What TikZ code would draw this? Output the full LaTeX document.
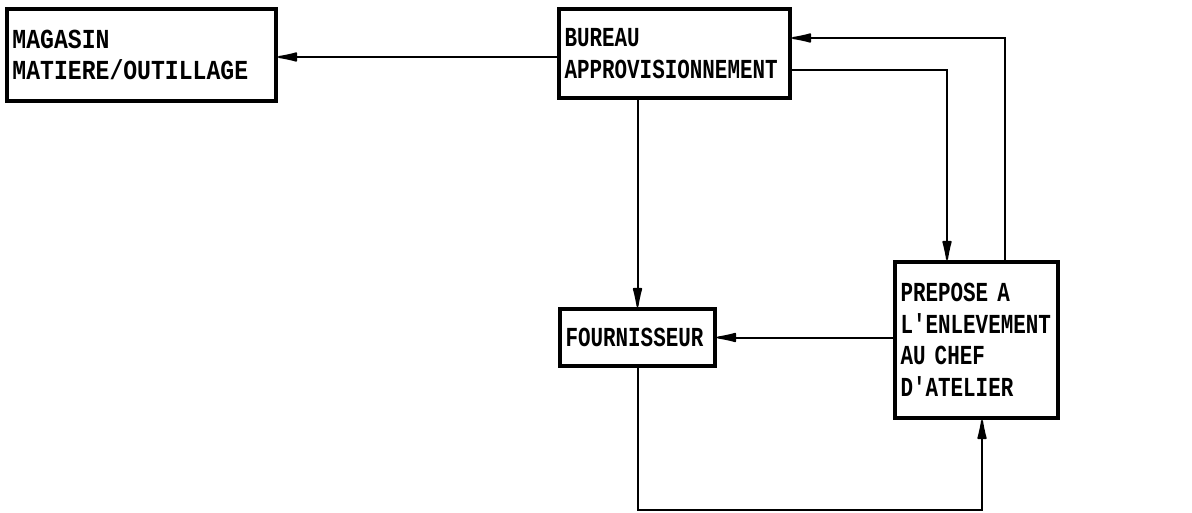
\documentclass[tikz,border=0pt]{standalone}
\usepackage{fontspec}
\usetikzlibrary{arrows.meta}
\newfontfamily\dotfont[FakeStretch=0.76]{Liberation Mono}
\newfontfamily\dotfontwide[FakeStretch=0.84]{Liberation Mono}
\tikzset{
  boxnode/.style={draw, line width=4pt, align=left, inner xsep=5.5pt, inner ysep=0pt,
    font=\dotfont\bfseries\fontsize{27.5}{31.5}\selectfont},
  widebox/.style={boxnode, font=\dotfontwide\bfseries\fontsize{27.5}{31.5}\selectfont},
  conn/.style={line width=2pt},
  arr/.style={conn, -{Latex[length=26pt,width=10pt,round]}}
}
\begin{document}
\begin{tikzpicture}[x=1pt,y=-1pt]
\useasboundingbox (0,0) rectangle (1192,513);
\node[widebox, minimum width=269pt, minimum height=92pt, text width=258pt] (mag) at (141.5,55)
  {MAGASIN\\MATIERE/OUTILLAGE};
\node[boxnode, minimum width=231pt, minimum height=89pt, text width=220pt] (bur) at (674.5,53.5)
  {BUREAU\\APPROVISIONNEMENT};
\node[boxnode, minimum width=155pt, minimum height=57pt, text width=144pt] (four) at (637.5,337.5)
  {FOURNISSEUR};
\node[boxnode, minimum width=163pt, minimum height=156pt, text width=152pt] (prep) at (976.5,340)
  {PREPOSE A\\L'ENLEVEMENT\\AU CHEF\\D'ATELIER};
\draw[arr] (bur.west |- 0,57) -- (mag.east |- 0,57);
\draw[arr] (prep.north -| 1005,0) |- (bur.east |- 0,38);
\draw[arr] (bur.east |- 0,70) -| (prep.north -| 947,0);
\draw[arr] (bur.south -| four.north) -- (four.north);
\draw[arr] (prep.west |- four.east) -- (four.east);
\draw[arr] (four.south) -- (four.south |- 0,510) -| (prep.south -| 982,0);
\end{tikzpicture}
\end{document}
